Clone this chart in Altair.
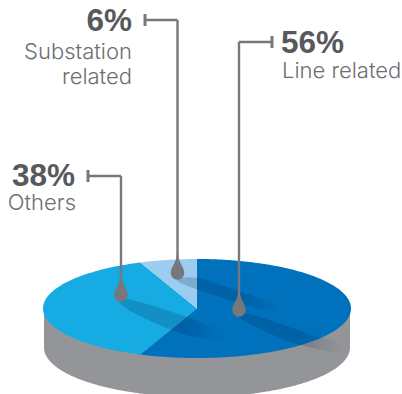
import math

import altair as alt
import pandas as pd

# Shares of the pie, clockwise from twelve o'clock
categories = ["Line related", "Others", "Substation related"]
shares = [56, 38, 6]
share_labels = ["56%", "38%", "6%"]
slice_colors = ["#0071BC", "#16ABE3", "#9CCDF0"]

WIDTH, HEIGHT = 402, 394
CX, CY, RX, RY = 197, 308.5, 154, 49.5
DEPTH = 39
GRAY = "#939598"
LEADER = "#77787B"
BOLD_TEXT = "#58595B"
LIGHT_TEXT = "#6D6E71"
BODY_FONT = "Inter"
HEAD_FONT = "Liberation Sans"


def rim(theta, cy=CY, rx=RX):
    rad = math.radians(theta)
    return CX + rx * math.sin(rad), cy - RY * math.cos(rad)


# Top face: each wedge is a closed outline through the centre
rows = []
start = 0.0
for name, share in zip(categories, shares):
    sweep = share * 3.6
    outline = [(CX, CY)]
    steps = max(4, int(sweep))
    outline += [rim(start + sweep * k / steps) for k in range(steps + 1)]
    for i, (x, y) in enumerate(outline):
        rows.append({"slice": name, "i": i, "x": x, "y": y})
    start += sweep
wedges = pd.DataFrame(rows)

# Side wall: front half of the rim, dropped by the depth of the disc
wall_rows = [(CX - RX + 1, CY)]
wall_rows += [rim(270 - k, CY + DEPTH, RX - 1) for k in range(181)]
wall_rows += [(CX + RX - 1, CY)]
wall = pd.DataFrame(
    [{"i": i, "x": x, "y": y} for i, (x, y) in enumerate(wall_rows)]
)

x_enc = alt.X("x:Q", scale=alt.Scale(domain=[0, WIDTH]), axis=None)
y_enc = alt.Y("y:Q", scale=alt.Scale(domain=[HEIGHT, 0]), axis=None)

wall_layer = (
    alt.Chart(wall)
    .mark_line(fill=GRAY, strokeWidth=0, clip=True)
    .encode(x=x_enc, y=y_enc, order="i:Q")
)

wedge_layer = (
    alt.Chart(wedges)
    .mark_line(strokeWidth=0)
    .encode(
        x=x_enc,
        y=y_enc,
        order="i:Q",
        fill=alt.Fill(
            "slice:N",
            scale=alt.Scale(domain=categories, range=slice_colors),
            legend=None,
        ),
    )
)

# Soft cast shadows trailing from each pin
shadow_paths = {
    "others": [(119, 298), (147, 304), (187, 317), (222, 332), (222, 340), (190, 336), (157, 324), (127, 309)],
    "substation": [(178, 279), (197, 278), (230, 288), (280, 306), (280, 310), (263, 310), (217, 296), (183, 284)],
    "line": [(239, 312), (263, 318), (313, 335), (338, 342), (338, 352), (297, 344), (260, 329), (240, 318)],
}
shadow_fill = alt.Gradient(
    gradient="linear",
    x1=0,
    x2=1,
    y1=0,
    y2=0,
    stops=[
        alt.GradientStop(offset=0, color="rgba(0,35,75,0.2)"),
        alt.GradientStop(offset=0.6, color="rgba(0,35,75,0.2)"),
        alt.GradientStop(offset=1, color="rgba(0,35,75,0)"),
    ],
)
shadow_layers = []
for path in shadow_paths.values():
    frame = pd.DataFrame(
        [{"i": i, "x": x, "y": y} for i, (x, y) in enumerate(path)]
    )
    shadow_layers.append(
        alt.Chart(frame)
        .mark_line(fill=shadow_fill, strokeWidth=0, interpolate="cardinal-closed")
        .encode(x=x_enc, y=y_enc, order="i:Q")
    )

# Leader lines: tick, shoulder, drop to the pin
leaders = [
    {"tick_x": 272, "tick_y": 42, "drop_x": 239, "pin_y": 310},
    {"tick_x": 88, "tick_y": 176, "drop_x": 121, "pin_y": 295},
    {"tick_x": 145, "tick_y": 20, "drop_x": 177.5, "pin_y": 273},
]
segments = []
ticks = []
for item in leaders:
    segments.append({"x": item["tick_x"], "x2": item["drop_x"], "y": item["tick_y"], "y2": item["tick_y"]})
    segments.append({"x": item["drop_x"], "x2": item["drop_x"], "y": item["tick_y"], "y2": item["pin_y"]})
    ticks.append({"x": item["tick_x"], "x2": item["tick_x"], "y": item["tick_y"] - 6, "y2": item["tick_y"] + 6})

segment_layer = (
    alt.Chart(pd.DataFrame(segments))
    .mark_rule(color=LEADER, strokeWidth=2.4)
    .encode(x=x_enc, y=y_enc, x2="x2:Q", y2="y2:Q")
)
tick_layer = (
    alt.Chart(pd.DataFrame(ticks))
    .mark_rule(color=LEADER, strokeWidth=3)
    .encode(x=x_enc, y=y_enc, x2="x2:Q", y2="y2:Q")
)

TEARDROP = "M -0.1 -2.8 C -0.1 -1.6 -1 -0.9 -1 0 A 1 1 0 1 0 1 0 C 1 -0.9 0.1 -1.6 0.1 -2.8 Z"
pins = pd.DataFrame([{"x": item["drop_x"], "y": item["pin_y"]} for item in leaders])
pin_layer = (
    alt.Chart(pins)
    .mark_point(shape=TEARDROP, filled=True, color=LEADER, opacity=1, size=182)
    .encode(x=x_enc, y=y_enc)
)

# Callout text
head_rows = [
    {"x": 281, "y": 53, "text": share_labels[0], "align": "left"},
    {"x": 75, "y": 186, "text": share_labels[1], "align": "right"},
    {"x": 132, "y": 31, "text": share_labels[2], "align": "right"},
]
body_rows = [
    {"x": 282, "y": 78, "text": "Line related", "align": "left"},
    {"x": 76, "y": 210, "text": "Others", "align": "right"},
    {"x": 132, "y": 59, "text": "Substation", "align": "right"},
    {"x": 132, "y": 84, "text": "related", "align": "right"},
]
text_layers = []
for rows_, font, weight, size, color in [
    (head_rows, HEAD_FONT, "bold", 31.5, BOLD_TEXT),
    (body_rows, BODY_FONT, 300, 22, LIGHT_TEXT),
]:
    for align in ["left", "right"]:
        subset = [r for r in rows_ if r["align"] == align]
        text_layers.append(
            alt.Chart(pd.DataFrame(subset))
            .mark_text(
                font=font,
                fontWeight=weight,
                fontSize=size,
                color=color,
                align=align,
                baseline="alphabetic",
            )
            .encode(x=x_enc, y=y_enc, text="text:N")
        )

chart = (
    alt.layer(
        wall_layer,
        wedge_layer,
        *shadow_layers,
        segment_layer,
        tick_layer,
        pin_layer,
        *text_layers,
    )
    .properties(width=WIDTH, height=HEIGHT, padding=0, autosize=alt.AutoSizeParams(type="none"))
    .configure_view(stroke=None)
)

chart.save("out.html", embed_options={"renderer": "svg", "actions": False})
